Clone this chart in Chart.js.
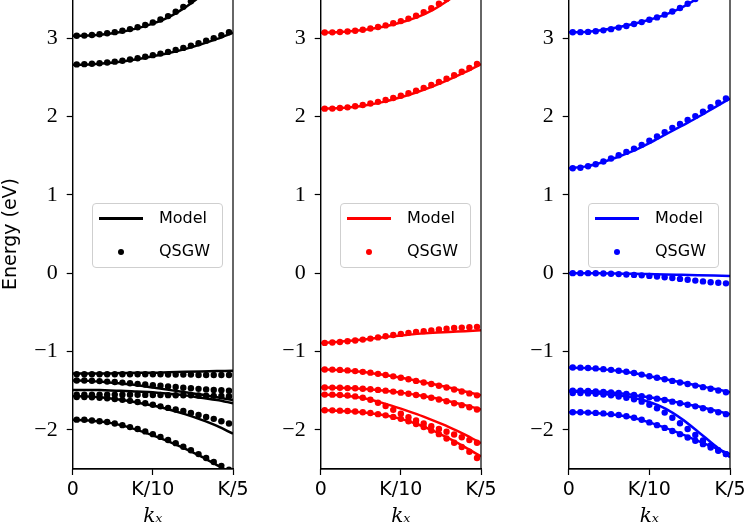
<!DOCTYPE html>
<html>
<head>
<meta charset="utf-8">
<script src="https://cdn.jsdelivr.net/npm/chart.js@4.4.1/dist/chart.umd.min.js"></script>
<style>
body { margin: 0; background: #fff; width: 747px; height: 528px; overflow: hidden; position: relative; }
canvas { position: absolute; top: -1px; }
.legend { position: absolute; top: 203px; width: 131px; height: 65px; box-sizing: border-box;
  border: 1px solid #cfcfcf; border-radius: 4px; background: rgba(255,255,255,0.8);
  font: 16px "DejaVu Sans", sans-serif; color: #000; }
.legend .ln { position: absolute; left: 6px; top: 13px; width: 44px; height: 3px; }
.legend .dt { position: absolute; left: 25px; top: 45px; width: 6px; height: 6px; border-radius: 50%; }
.legend .t1 { position: absolute; left: 66px; top: 4px; }
.legend .t2 { position: absolute; left: 66px; top: 37px; }
</style>
</head>
<body>
<canvas id="c0" width="250" height="530" style="left:0px"></canvas>
<canvas id="c1" width="250" height="530" style="left:248px"></canvas>
<canvas id="c2" width="251" height="530" style="left:496px"></canvas>

<div class="legend" style="left:92px"><div class="ln" style="background:#000"></div><div class="dt" style="background:#000"></div><span class="t1">Model</span><span class="t2">QSGW</span></div>
<div class="legend" style="left:340px"><div class="ln" style="background:#f00"></div><div class="dt" style="background:#f00"></div><span class="t1">Model</span><span class="t2">QSGW</span></div>
<div class="legend" style="left:588px"><div class="ln" style="background:#00f"></div><div class="dt" style="background:#00f"></div><span class="t1">Model</span><span class="t2">QSGW</span></div>

<script>
// k points (fraction of K) for model curves and QSGW points
const kModel = [0, 0.02, 0.04, 0.06, 0.08, 0.10, 0.12, 0.14, 0.16, 0.18, 0.20];
const kQSGW = [0.005, 0.0145, 0.024, 0.0335, 0.043, 0.0525, 0.062, 0.0715, 0.081, 0.0905, 0.1,
               0.1095, 0.119, 0.1285, 0.138, 0.1475, 0.157, 0.1665, 0.176, 0.1855, 0.195];

const xTickValues = [0, 0.1, 0.2];
const xTickLabels = ["0", "K/10", "K/5"];
const yTickValues = [-2, -1, 0, 1, 2, 3];

// panel 1 (black)
const blackModel = [
    [3.03, 3.035, 3.05, 3.08, 3.125, 3.185, 3.27, 3.39, 3.54, 3.70, 3.88],
    [2.66, 2.665, 2.68, 2.70, 2.73, 2.77, 2.81, 2.86, 2.92, 2.99, 3.07],
    [-1.28, -1.28, -1.28, -1.275, -1.27, -1.27, -1.265, -1.26, -1.255, -1.25, -1.245],
    [-1.37, -1.375, -1.39, -1.41, -1.43, -1.46, -1.49, -1.52, -1.55, -1.585, -1.62],
    [-1.49, -1.49, -1.495, -1.50, -1.51, -1.52, -1.54, -1.56, -1.59, -1.62, -1.66],
    [-1.57, -1.575, -1.59, -1.615, -1.65, -1.69, -1.74, -1.80, -1.87, -1.95, -2.05],
    [-1.87, -1.88, -1.90, -1.94, -2.00, -2.07, -2.15, -2.24, -2.34, -2.45, -2.56]
];
const blackQSGW = [
    [3.03, 3.033, 3.04, 3.05, 3.062, 3.077, 3.095, 3.116, 3.14, 3.168, 3.2, 3.238, 3.282, 3.338, 3.40, 3.47, 3.55, 3.63, 3.71, 3.80, 3.89],
    [2.665, 2.668, 2.673, 2.68, 2.69, 2.70, 2.712, 2.727, 2.743, 2.763, 2.783, 2.803, 2.825, 2.85, 2.876, 2.905, 2.935, 2.968, 3.0, 3.037, 3.075],
    [-1.29, -1.29, -1.29, -1.29, -1.29, -1.29, -1.29, -1.29, -1.29, -1.29, -1.29, -1.29, -1.295, -1.295, -1.295, -1.295, -1.30, -1.30, -1.30, -1.30, -1.30],
    [-1.37, -1.371, -1.374, -1.378, -1.384, -1.39, -1.397, -1.405, -1.413, -1.421, -1.43, -1.438, -1.446, -1.454, -1.462, -1.47, -1.477, -1.484, -1.49, -1.495, -1.50],
    [-1.55, -1.55, -1.55, -1.55, -1.55, -1.55, -1.551, -1.552, -1.553, -1.554, -1.555, -1.556, -1.557, -1.558, -1.559, -1.56, -1.562, -1.564, -1.566, -1.568, -1.57],
    [-1.58, -1.581, -1.584, -1.59, -1.597, -1.606, -1.617, -1.63, -1.645, -1.66, -1.68, -1.70, -1.72, -1.74, -1.76, -1.785, -1.81, -1.835, -1.86, -1.89, -1.92],
    [-1.87, -1.872, -1.88, -1.89, -1.90, -1.92, -1.94, -1.965, -1.99, -2.02, -2.055, -2.09, -2.13, -2.17, -2.215, -2.26, -2.31, -2.36, -2.41, -2.46, -2.51]
];

// panel 2 (red)
const redModel = [
    [3.07, 3.075, 3.09, 3.115, 3.15, 3.20, 3.265, 3.36, 3.49, 3.64, 3.80],
    [2.10, 2.105, 2.12, 2.15, 2.19, 2.245, 2.31, 2.385, 2.47, 2.565, 2.67],
    [-0.89, -0.88, -0.86, -0.84, -0.815, -0.795, -0.775, -0.76, -0.75, -0.74, -0.73],
    [-1.23, -1.235, -1.25, -1.27, -1.30, -1.335, -1.375, -1.415, -1.46, -1.51, -1.56],
    [-1.46, -1.463, -1.47, -1.482, -1.50, -1.525, -1.555, -1.59, -1.635, -1.685, -1.74],
    [-1.55, -1.555, -1.575, -1.61, -1.665, -1.73, -1.80, -1.88, -1.965, -2.06, -2.17],
    [-1.75, -1.755, -1.765, -1.785, -1.815, -1.86, -1.925, -2.01, -2.11, -2.22, -2.34]
];
const redQSGW = [
    [3.072, 3.074, 3.078, 3.085, 3.095, 3.108, 3.124, 3.142, 3.163, 3.19, 3.218, 3.25, 3.287, 3.333, 3.383, 3.44, 3.50, 3.57, 3.645, 3.72, 3.80],
    [2.10, 2.101, 2.108, 2.117, 2.13, 2.147, 2.166, 2.187, 2.21, 2.236, 2.265, 2.296, 2.33, 2.366, 2.403, 2.442, 2.483, 2.526, 2.571, 2.619, 2.67],
    [-0.89, -0.886, -0.879, -0.87, -0.86, -0.848, -0.835, -0.82, -0.805, -0.79, -0.775, -0.762, -0.75, -0.74, -0.73, -0.72, -0.71, -0.70, -0.695, -0.69, -0.685],
    [-1.23, -1.231, -1.235, -1.241, -1.25, -1.26, -1.27, -1.285, -1.30, -1.317, -1.335, -1.355, -1.375, -1.395, -1.415, -1.437, -1.46, -1.485, -1.51, -1.535, -1.56],
    [-1.46, -1.461, -1.463, -1.467, -1.47, -1.476, -1.482, -1.49, -1.50, -1.512, -1.525, -1.54, -1.555, -1.572, -1.59, -1.612, -1.635, -1.66, -1.685, -1.712, -1.74],
    [-1.55, -1.551, -1.555, -1.562, -1.573, -1.59, -1.615, -1.655, -1.695, -1.745, -1.795, -1.84, -1.88, -1.92, -1.955, -1.99, -2.025, -2.06, -2.095, -2.13, -2.165],
    [-1.75, -1.751, -1.755, -1.76, -1.765, -1.775, -1.785, -1.80, -1.815, -1.835, -1.86, -1.89, -1.925, -1.965, -2.01, -2.055, -2.11, -2.165, -2.22, -2.28, -2.36]
];

// panel 3 (blue)
const blueModel = [
    [3.075, 3.08, 3.10, 3.135, 3.18, 3.235, 3.30, 3.39, 3.51, 3.65, 3.80],
    [1.34, 1.36, 1.41, 1.48, 1.56, 1.66, 1.77, 1.88, 1.99, 2.11, 2.23],
    [0, 0, -0.002, -0.005, -0.008, -0.012, -0.016, -0.021, -0.026, -0.031, -0.036],
    [-1.205, -1.21, -1.225, -1.245, -1.275, -1.315, -1.355, -1.395, -1.435, -1.475, -1.52],
    [-1.50, -1.505, -1.515, -1.53, -1.555, -1.585, -1.62, -1.66, -1.70, -1.75, -1.80],
    [-1.51, -1.52, -1.54, -1.56, -1.59, -1.645, -1.73, -1.86, -2.02, -2.19, -2.35],
    [-1.775, -1.78, -1.79, -1.81, -1.845, -1.905, -1.975, -2.055, -2.14, -2.225, -2.31]
];
const blueQSGW = [
    [3.075, 3.077, 3.08, 3.088, 3.10, 3.115, 3.135, 3.155, 3.18, 3.205, 3.235, 3.265, 3.30, 3.34, 3.385, 3.44, 3.50, 3.565, 3.635, 3.71, 3.79],
    [1.34, 1.345, 1.365, 1.39, 1.425, 1.463, 1.505, 1.548, 1.59, 1.638, 1.69, 1.745, 1.80, 1.855, 1.905, 1.955, 2.005, 2.06, 2.12, 2.175, 2.23],
    [0, 0, 0, -0.002, -0.005, -0.008, -0.012, -0.017, -0.022, -0.028, -0.035, -0.043, -0.052, -0.062, -0.073, -0.084, -0.095, -0.105, -0.115, -0.123, -0.13],
    [-1.205, -1.206, -1.21, -1.216, -1.225, -1.234, -1.245, -1.258, -1.275, -1.295, -1.315, -1.335, -1.355, -1.375, -1.395, -1.415, -1.435, -1.455, -1.475, -1.497, -1.52],
    [-1.50, -1.501, -1.505, -1.51, -1.515, -1.522, -1.53, -1.542, -1.555, -1.57, -1.585, -1.602, -1.62, -1.64, -1.66, -1.68, -1.70, -1.725, -1.75, -1.775, -1.80],
    [-1.53, -1.53, -1.535, -1.54, -1.55, -1.56, -1.575, -1.59, -1.61, -1.64, -1.68, -1.725, -1.78, -1.845, -1.915, -1.99, -2.065, -2.135, -2.20, -2.26, -2.31],
    [-1.775, -1.776, -1.78, -1.784, -1.79, -1.80, -1.81, -1.827, -1.845, -1.872, -1.905, -1.94, -1.975, -2.015, -2.055, -2.097, -2.14, -2.183, -2.225, -2.267, -2.31]
];

const panels = [
    { id: "c0", color: "#000000", model: blackModel, dots: blackQSGW, yTitle: true },
    { id: "c1", color: "#ff0000", model: redModel, dots: redQSGW, yTitle: false },
    { id: "c2", color: "#0000ff", model: blueModel, dots: blueQSGW, yTitle: false }
];

// right/top spine
const framePlugin = {
    id: "frame",
    afterDraw(chart) {
        const a = chart.chartArea;
        const ctx = chart.ctx;
        ctx.save();
        ctx.strokeStyle = "#000";
        ctx.lineWidth = 1.2;
        ctx.strokeRect(a.left, a.top, a.right - a.left, a.bottom - a.top);
        ctx.restore();
    }
};

function minus(v) {
    return v < 0 ? "\u2212" + Math.abs(v) : String(v);
}

panels.forEach(p => {
    const datasets = [];

    // points first so they sit on top of the lines
    p.dots.forEach(band => {
        datasets.push({
            data: kQSGW.map((k, i) => ({ x: k, y: band[i] })),
            showLine: false,
            pointRadius: 3.2,
            pointBackgroundColor: p.color,
            pointBorderWidth: 0
        });
    });
    p.model.forEach(band => {
        datasets.push({
            data: kModel.map((k, i) => ({ x: k, y: band[i] })),
            showLine: true,
            borderColor: p.color,
            borderWidth: 2.5,
            pointRadius: 0,
            cubicInterpolationMode: "monotone"
        });
    });

    new Chart(document.getElementById(p.id), {
        type: "scatter",
        data: { datasets: datasets },
        options: {
            responsive: false,
            animation: false,
            layout: { autoPadding: false, padding: { left: 0, right: 17, top: 0, bottom: 0 } },
            plugins: { legend: { display: false }, tooltip: { enabled: false } },
            scales: {
                x: {
                    type: "linear",
                    min: 0,
                    max: 0.2,
                    afterBuildTicks: s => { s.ticks = xTickValues.map(v => ({ value: v })); },
                    afterFit: s => { s.height = 60; s.paddingLeft = 0; s.paddingRight = 0; },
                    ticks: {
                        autoSkip: false,
                        maxRotation: 0,
                        padding: 4,
                        color: "#000",
                        font: { family: "DejaVu Sans", size: 19 },
                        callback: v => xTickLabels[xTickValues.indexOf(v)]
                    },
                    grid: { display: true, drawOnChartArea: false, drawTicks: true, tickLength: 6, tickWidth: 1.2, color: "#000" },
                    border: { display: true, color: "#000", width: 1.2 },
                    title: {
                        display: true,
                        text: "k\u2093",
                        color: "#000",
                        padding: 0,
                        font: { family: "DejaVu Serif", size: 20, style: "italic" }
                    }
                },
                y: {
                    type: "linear",
                    min: -2.5,
                    max: 3.5,
                    afterBuildTicks: s => { s.ticks = yTickValues.map(v => ({ value: v })); },
                    afterFit: s => { s.width = 72.7; s.paddingTop = 0; s.paddingBottom = 0; },
                    ticks: {
                        padding: 9,
                        color: "#000",
                        font: { family: "Liberation Serif", size: 22 },
                        callback: v => minus(v)
                    },
                    grid: { display: true, drawOnChartArea: false, drawTicks: true, tickLength: 6, tickWidth: 1.2, color: "#000" },
                    border: { display: true, color: "#000", width: 1.2 },
                    title: {
                        display: p.yTitle,
                        text: "Energy (eV)",
                        color: "#000",
                        padding: 0,
                        font: { family: "DejaVu Sans", size: 19 }
                    }
                }
            }
        },
        plugins: [framePlugin]
    });
});
</script>
</body>
</html>
